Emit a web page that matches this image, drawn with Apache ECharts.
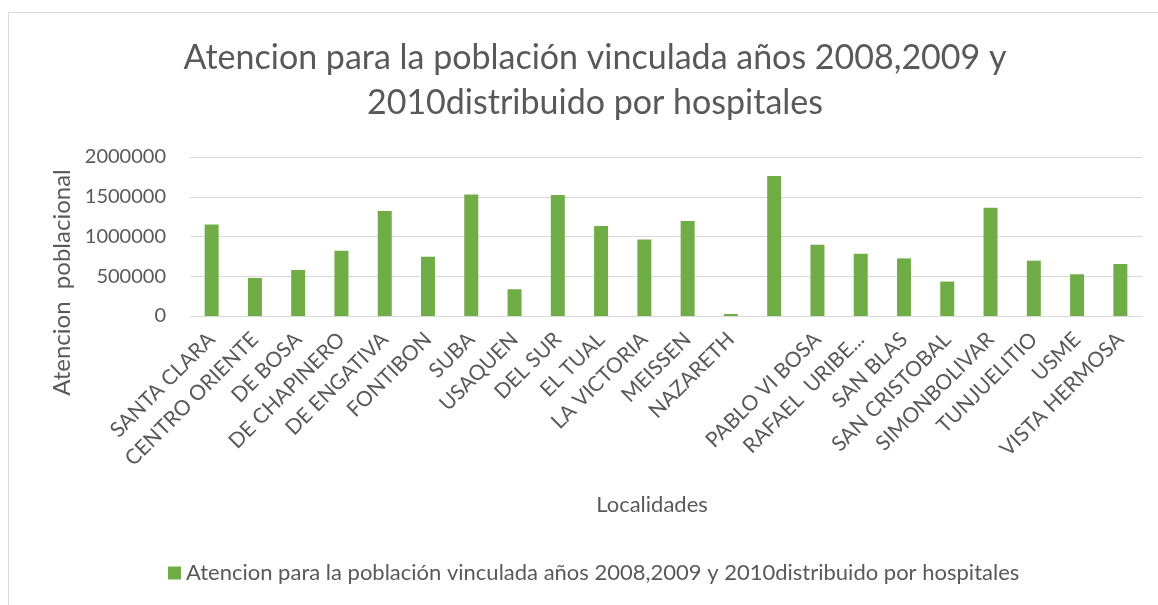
<!DOCTYPE html>
<html>
<head>
<meta charset="utf-8">
<script src="https://cdn.jsdelivr.net/npm/echarts@6/dist/echarts.min.js"></script>
<style>
  html, body { margin: 0; padding: 0; background: #fff; }
  #frame { position: absolute; left: 8px; top: 12px; width: 1150px; height: 593px;
           border-left: 1px solid #d9d9d9; border-top: 1px solid #d9d9d9; }
  #main { position: absolute; left: 0; top: 0; width: 1158px; height: 605px; }
</style>
</head>
<body>
<div id="frame"></div>
<div id="main"></div>
<script>
// localidades (la 14 no tiene nombre en el original)
const localidades = ['SANTA CLARA', 'CENTRO ORIENTE', 'DE BOSA', 'DE CHAPINERO', 'DE ENGATIVA',
  'FONTIBON', 'SUBA', 'USAQUEN', 'DEL SUR', 'EL TUAL', 'LA VICTORIA', 'MEISSEN', 'NAZARETH', '',
  'PABLO VI BOSA', 'RAFAEL  URIBE...', 'SAN BLAS', 'SAN CRISTOBAL', 'SIMONBOLIVAR', 'TUNJUELITIO',
  'USME', 'VISTA HERMOSA'];
const atencion = [1150000, 479000, 579000, 821000, 1321000, 746000, 1529000, 337000, 1521000,
  1133000, 962000, 1196000, 25000, 1762000, 896000, 783000, 725000, 433000, 1362000, 696000,
  525000, 654000];
const serieNombre = 'Atencion para la población vinculada años 2008,2009 y 2010distribuido por hospitales';
const yTicks = [0, 500000, 1000000, 1500000, 2000000];

const gris = '#595959';
const chart = echarts.init(document.getElementById('main'));
chart.setOption({
  backgroundColor: 'transparent',
  textStyle: { fontFamily: 'Lato' },
  title: {
    text: 'Atencion para la población vinculada años 2008,2009 y\n2010distribuido por hospitales',
    left: 590,
    top: 31,
    textAlign: 'center',
    textStyle: { color: gris, fontSize: 34, fontWeight: 'normal', lineHeight: 45, fontFamily: 'Lato' }
  },
  legend: {
    bottom: 16,
    left: 163,
    itemWidth: 13,
    itemHeight: 13,
    itemGap: 5,
    icon: 'rect',
    textStyle: { color: gris, fontSize: 22, fontFamily: 'Lato' },
    data: [serieNombre]
  },
  grid: { left: 190, right: 16, top: 157, bottom: 289 },
  xAxis: {
    type: 'category',
    data: localidades,
    name: 'Localidades',
    nameLocation: 'middle',
    nameGap: 178,
    nameTextStyle: { color: gris, fontSize: 22, padding: [0, 28, 0, 0] },
    axisLine: { lineStyle: { color: '#d9d9d9' } },
    axisTick: { show: false },
    axisLabel: { interval: 0, rotate: 45, color: gris, fontSize: 21, margin: 20 }
  },
  yAxis: {
    type: 'value',
    min: yTicks[0],
    max: yTicks[yTicks.length - 1],
    interval: yTicks[1] - yTicks[0],
    name: 'Atencion  poblacional',
    nameLocation: 'middle',
    nameRotate: 90,
    nameGap: 116,
    nameTextStyle: { color: gris, fontSize: 24, padding: [0, 92, 0, 0] },
    axisLine: { show: false },
    axisTick: { show: false },
    axisLabel: { color: gris, fontSize: 20, margin: 24, formatter: v => String(v) },
    splitLine: { lineStyle: { color: '#d9d9d9', width: 1 } }
  },
  series: [{
    name: serieNombre,
    type: 'bar',
    data: atencion,
    barWidth: 14,
    itemStyle: { color: '#70ad47' }
  }]
});
</script>
</body>
</html>
